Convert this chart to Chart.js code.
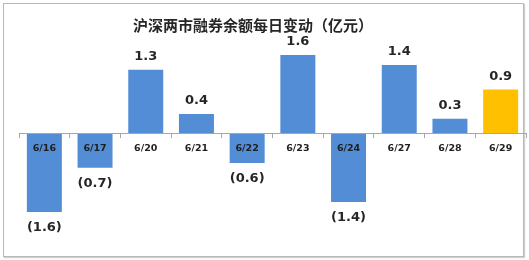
<!DOCTYPE html>
<html>
<head>
<meta charset="utf-8">
<script src="https://cdn.jsdelivr.net/npm/chart.js@4/dist/chart.umd.min.js"></script>
<style>
  html, body { margin: 0; padding: 0; background: #fff; }
  #frame {
    position: absolute; left: 3px; top: 3px; width: 519px; height: 252px;
    border: 1px solid #b8b8b8; box-shadow: 1px 1px 1px #d0d0d0;
  }
  #wrap { position: absolute; left: 0; top: 0; width: 529px; height: 260px; }
</style>
</head>
<body>
<div id="frame"></div>
<div id="wrap"><canvas id="chart" width="529" height="260"></canvas></div>
<script>
const titleText = '沪深两市融券余额每日变动（亿元）';
const dates = ['6/16', '6/17', '6/20', '6/21', '6/22', '6/23', '6/24', '6/27', '6/28', '6/29'];
const changes = [-1.6, -0.7, 1.3, 0.4, -0.6, 1.6, -1.4, 1.4, 0.3, 0.9];
const barColors = ['#538DD5', '#538DD5', '#538DD5', '#538DD5', '#538DD5', '#538DD5', '#538DD5', '#538DD5', '#538DD5', '#FFC000'];

// title is drawn by hand so it can sit a bit left of centre like the original
const titlePlugin = {
    id: 'titleText',
    afterDraw(chart) {
        const ctx = chart.ctx;
        ctx.save();
        ctx.font = 'bold 15px "Noto Sans CJK SC"';
        ctx.fillStyle = '#262626';
        ctx.textAlign = 'center';
        ctx.textBaseline = 'middle';
        ctx.fillText(titleText, 253, 25);
        ctx.restore();
    }
};

// value labels: above positive bars, "(x.x)" below negative ones
const valueLabels = {
    id: 'valueLabels',
    afterDatasetsDraw(chart) {
        const ctx = chart.ctx;
        const meta = chart.getDatasetMeta(0);
        ctx.save();
        ctx.font = 'bold 13px "DejaVu Sans"';
        ctx.fillStyle = '#262626';
        ctx.textAlign = 'center';
        ctx.textBaseline = 'middle';
        meta.data.forEach((bar, i) => {
            const v = changes[i];
            const txt = v < 0 ? '(' + Math.abs(v).toFixed(1) + ')' : v.toFixed(1);
            const y = v < 0 ? bar.y + 16 : bar.y - 13;
            ctx.fillText(txt, bar.x, y);
        });
        ctx.restore();
    }
};

new Chart(document.getElementById('chart'), {
    type: 'bar',
    data: {
        labels: dates,
        datasets: [{
            data: changes,
            backgroundColor: barColors,
            borderWidth: 0,
            barPercentage: 0.69,
            categoryPercentage: 1.0
        }]
    },
    options: {
        responsive: false,
        animation: false,
        layout: { padding: { left: 19, right: 3, top: 35.5, bottom: 28.5 } },
        plugins: {
            legend: { display: false },
            title: { display: false },
            tooltip: { enabled: false }
        },
        scales: {
            x: {
                position: { y: 0 },
                grid: {
                    drawOnChartArea: false,
                    offset: true,
                    tickLength: 4,
                    color: '#a6a6a6'
                },
                border: { color: '#a6a6a6', width: 1, z: 1 },
                ticks: {
                    z: 1,
                    color: '#1f1f1f',
                    font: { family: 'DejaVu Sans', weight: 'bold', size: 9.5 },
                    padding: 5,
                    maxRotation: 0
                }
            },
            y: {
                display: false,
                min: -2,
                max: 2
            }
        }
    },
    plugins: [titlePlugin, valueLabels]
});
</script>
</body>
</html>
